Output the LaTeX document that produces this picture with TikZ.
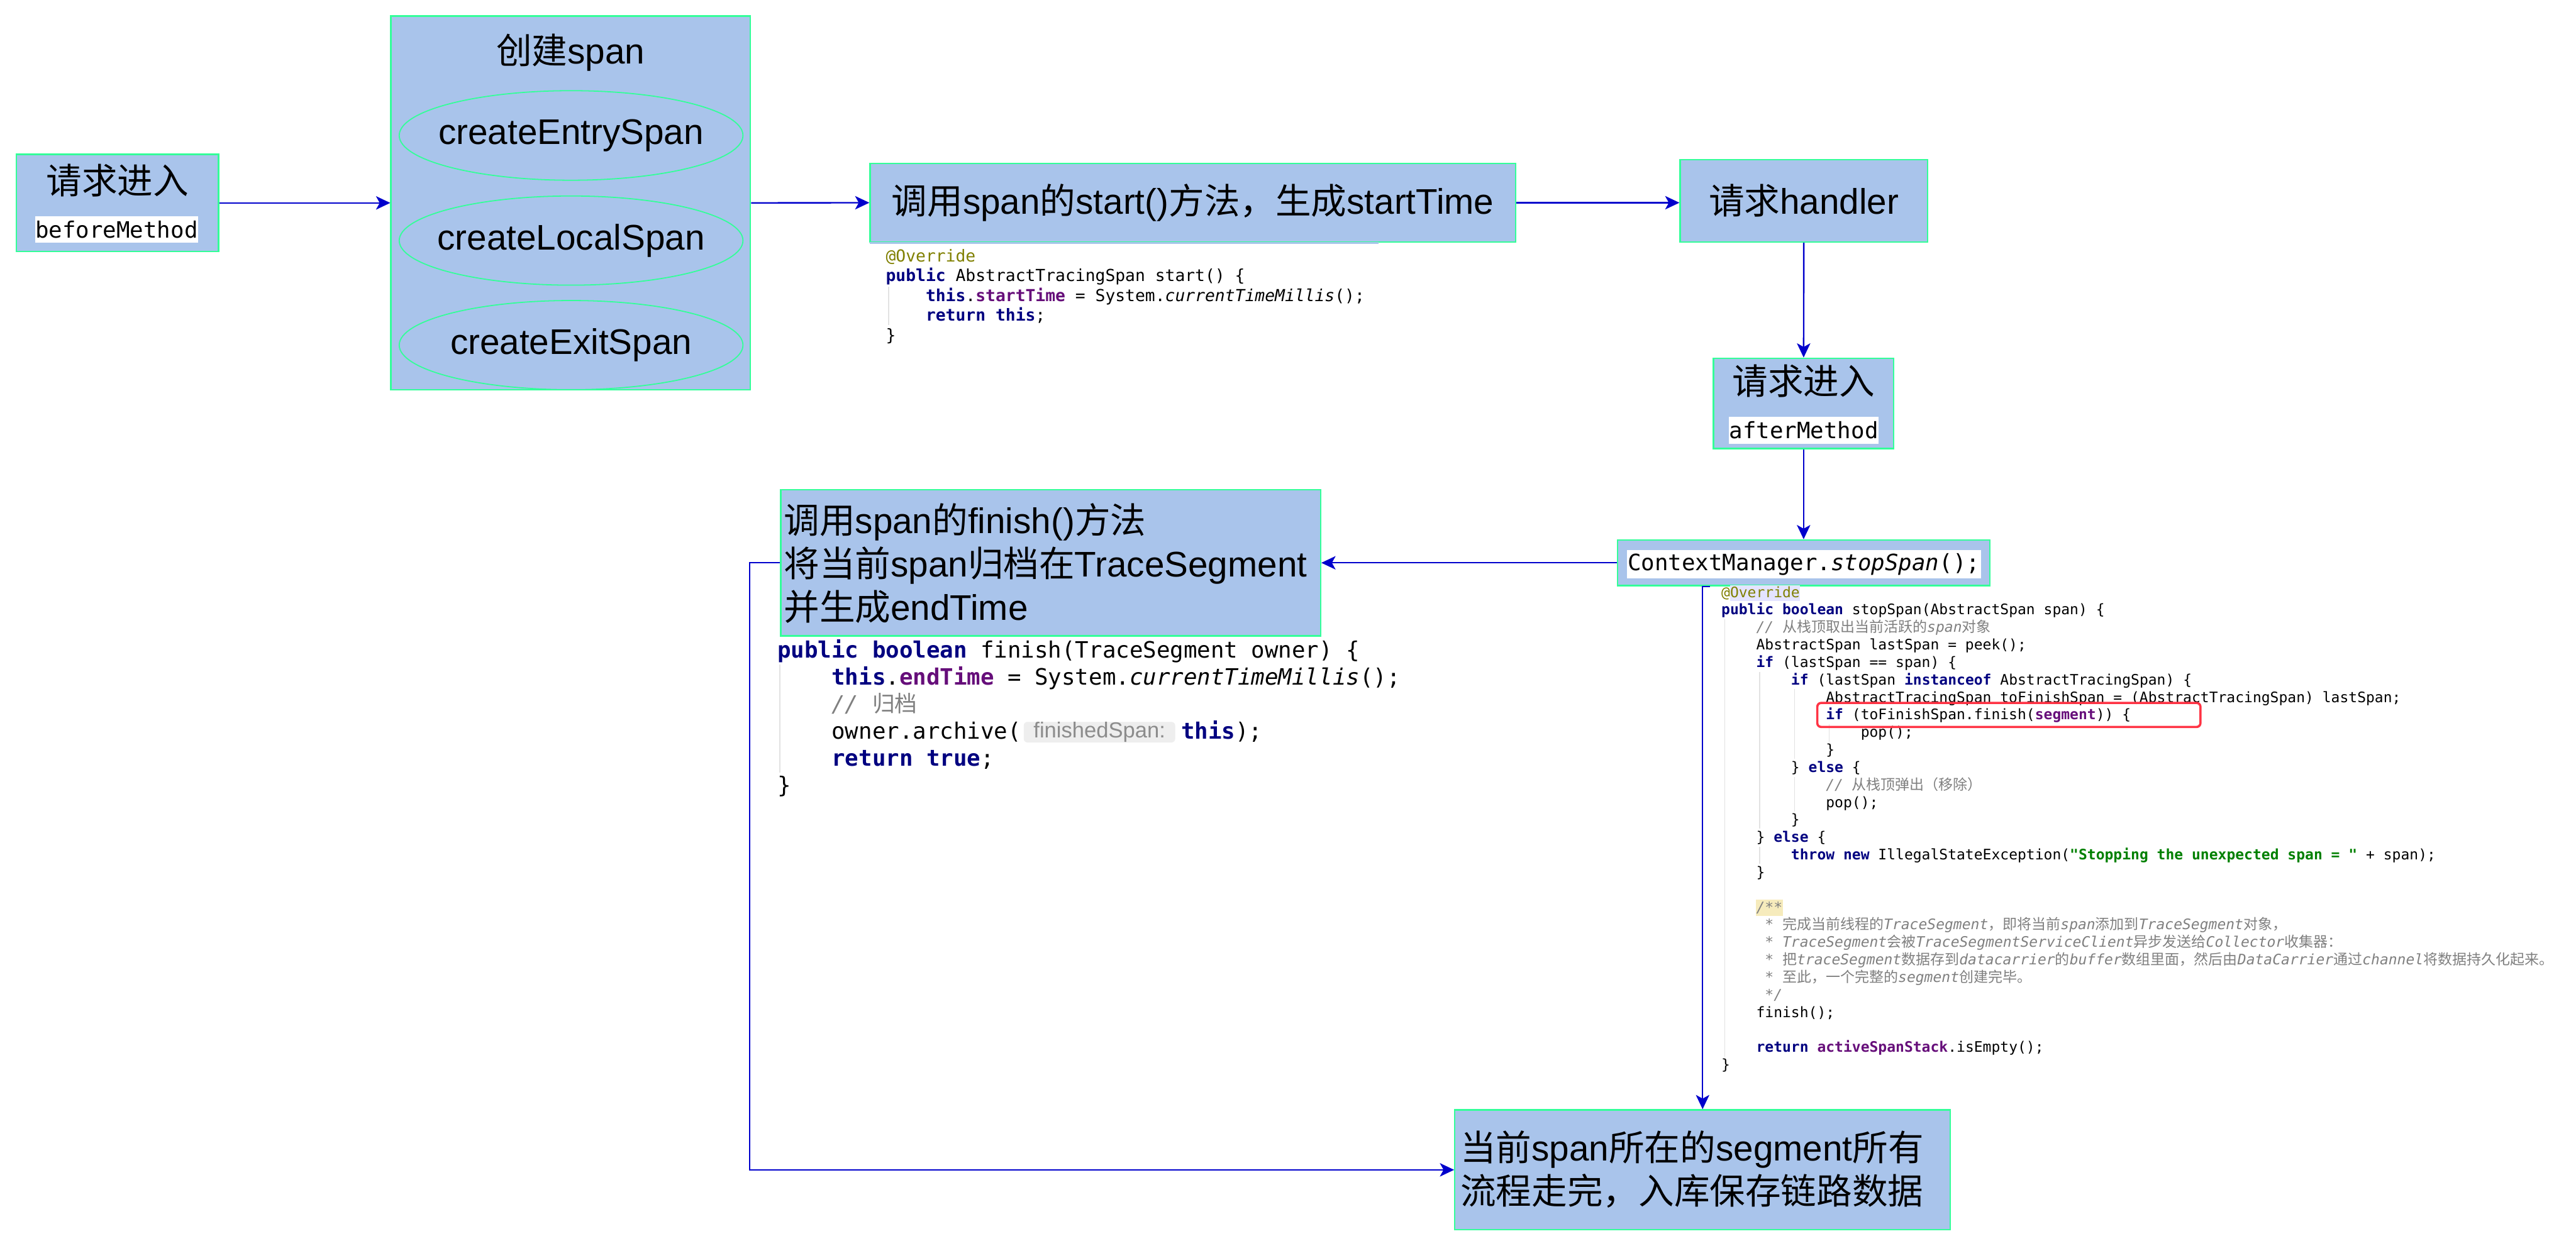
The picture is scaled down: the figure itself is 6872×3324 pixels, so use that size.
\documentclass[tikz,border=0pt]{standalone}
\usepackage{fontspec}
\setmainfont{Liberation Sans}
\newfontfamily\cjk{Noto Sans CJK SC}
\newfontfamily\mono{DejaVu Sans Mono}
\usetikzlibrary{arrows.meta,shapes.geometric}
\definecolor{boxblue}{HTML}{A9C4EB}
\definecolor{boxgreen}{HTML}{33FF99}
\definecolor{arrowblue}{HTML}{0000CC}
\definecolor{kwc}{HTML}{000080}
\definecolor{fdc}{HTML}{660E7A}
\definecolor{anc}{HTML}{808000}
\definecolor{cmc}{HTML}{808080}
\definecolor{stc}{HTML}{008000}
\definecolor{redbox}{HTML}{FF3344}
\definecolor{guidec}{HTML}{E2E2E2}
\definecolor{hintbg}{HTML}{EEEEEE}
\definecolor{hintfg}{HTML}{8C8C8C}
\definecolor{lavender}{HTML}{E4E4FF}
\definecolor{paleyellow}{HTML}{F6EBBC}
\newcommand{\zh}[1]{{\cjk #1}}
\newcommand{\kw}[1]{\textcolor{kwc}{\bfseries #1}}
\newcommand{\fd}[1]{\textcolor{fdc}{\bfseries #1}}
\newcommand{\an}[1]{\textcolor{anc}{#1}}
\newcommand{\codecmt}[1]{\textcolor{cmc}{\itshape #1}}
\newcommand{\codestr}[1]{\textcolor{stc}{\bfseries #1}}
\newcommand{\ind}[1]{\hspace*{\dimexpr 2.408em*#1\relax}}
\tikzset{
  bx/.style={draw=boxgreen, fill=boxblue, line width=4pt, inner sep=0pt, rectangle},
  ell/.style={draw=boxgreen, fill=boxblue, line width=3pt, ellipse, inner sep=0pt},
  conn/.style={draw=arrowblue, line width=4pt,
    -{Stealth[length=38pt,width=36pt,inset=10pt,line width=1pt]}},
  big/.style={inner sep=0pt, font=\fontsize{95}{116}\selectfont},
  monolbl/.style={fill=white, inner sep=0pt, font=\mono\fontsize{60}{72}\selectfont},
  codeS/.style={anchor=base west, inner sep=0pt, font=\mono\fontsize{38.6}{46.7}\selectfont},
  codeM/.style={anchor=base west, inner sep=0pt, font=\mono\fontsize{44.2}{53}\selectfont},
  codeL/.style={anchor=base west, inner sep=0pt, font=\mono\fontsize{60}{72}\selectfont},
  guide/.style={draw=guidec, line width=2.5pt},
}
\begin{document}
\begin{tikzpicture}[x=1pt,y=-1pt]
\useasboundingbox (0,0) rectangle (6872,3324);
\fill[white] (0,0) rectangle (6872,3324);

% ---------- top row ----------
\node[bx, minimum width=539pt, minimum height=259pt] (before) at (313.5,541.5) {};
\node[big] (beforet) at (313.5,482) {\zh{请求进入}};
\node[monolbl, minimum width=430pt, minimum height=70pt] (beforem) at (311,612) {beforeMethod};

\node[bx, minimum width=959pt, minimum height=997pt] (create) at (1522.5,541.5) {};
\node[big] (createt) at (1522,140) {\zh{创建}span};
\node[ell, minimum width=917pt, minimum height=239pt] (e1) at (1523.5,361.5) {};
\node[ell, minimum width=917pt, minimum height=238pt] (e2) at (1523.5,642) {};
\node[ell, minimum width=917pt, minimum height=238pt] (e3) at (1523.5,921) {};
\node[big] (e1t) at (e1.center) {createEntrySpan};
\node[big] (e2t) at (e2.center) {createLocalSpan};
\node[big] (e3t) at (e3.center) {createExitSpan};

\node[bx, minimum width=1722pt, minimum height=210pt, font=\fontsize{95}{116}\selectfont] (start) at (3182,541)
  {\zh{调用}span\zh{的}start()\zh{方法，生成}startTime};
\draw[boxblue, line width=4.5pt] ([xshift=2pt]start.south west) -- ([xshift=1359pt]start.south west);

\node[bx, minimum width=660pt, minimum height=220pt, font=\fontsize{95}{116}\selectfont] (handler) at (4812,536)
  {\zh{请求}handler};

\node[bx, minimum width=481pt, minimum height=241pt] (after) at (4811.5,1076.5) {};
\node[big] (aftert) at (4811.5,1017) {\zh{请求进入}};
\node[monolbl, minimum width=400pt, minimum height=72pt] (afterm) at (4812,1148) {afterMethod};

\node[bx, minimum width=993pt, minimum height=122pt] (cm) at (4811.5,1502) {};
\node[monolbl, minimum width=944pt, minimum height=76pt] (cmt) at (4812,1506)
  {ContextManager.\textit{stopSpan}();};

\node[bx, minimum width=1440pt, minimum height=390pt] (finish) at (2803,1502) {};
\node[big, anchor=west, align=left] (finisht) at (2091,1503)
  {\zh{调用}span\zh{的}finish()\zh{方法}\\\zh{将当前}span\zh{归档在}TraceSegment\\\zh{并生成}endTime};

\node[bx, minimum width=1322pt, minimum height=320pt] (seg) at (4542,3122) {};
\node[big, anchor=west, align=left] (segt) at (3896,3121)
  {\zh{当前}span\zh{所在的}segment\zh{所有}\\\zh{流程走完，入库保存链路数据}};

% ---------- start() code ----------
\draw[guide] (2371,765) -- (2371,868);
\node[codeM] (c0) at (2363,698) {\an{@Override}};
\node[codeM] (c1) at (2363,751) {\kw{public} AbstractTracingSpan start() \{};
\node[codeM] (c2) at (2363,804) {\ind{1}\kw{this}.\fd{startTime} = System.\textit{currentTimeMillis}();};
\node[codeM] (c3) at (2363,857) {\ind{1}\kw{return this};};
\node[codeM] (c4) at (2363,910) {\}};

% ---------- finish() code ----------
\draw[guide] (2080,1774) -- (2080,2062);
\node[codeL] (f0) at (2074,1756) {\kw{public boolean} finish(TraceSegment owner) \{};
\node[codeL] (f1) at (2074,1828) {\ind{1}\kw{this}.\fd{endTime} = System.\textit{currentTimeMillis}();};
\node[codeL] (f2) at (2074,1900) {\ind{1}\codecmt{// \zh{归档}}};
\node[codeL] (f3) at (2074,1972) {\ind{1}owner.archive(};
\node[fill=hintbg, rounded corners=10pt, minimum width=404pt, minimum height=55pt, inner sep=0pt,
      text=hintfg, font=\fontsize{58}{60}\selectfont] (hint) at (2933,1954) {finishedSpan:};
\node[codeL] (f3b) at (3151,1972) {\kw{this});};
\node[codeL] (f4) at (2074,2044) {\ind{1}\kw{return true};};
\node[codeL] (f5) at (2074,2116) {\}};

% ---------- stopSpan code ----------
\fill[lavender] (4615,1562) rectangle (4801,1604);
\fill[paleyellow] (4685,2400) rectangle (4756,2444);
\draw[guide] (4601,1652) -- (4601,2820);
\draw[guide] (4694,1793) -- (4694,2212);
\draw[guide] (4694,2260) -- (4694,2306);
\draw[guide] (4787,1839) -- (4787,2025);
\draw[guide] (4787,2073) -- (4787,2166);
\draw[guide] (4880,1933) -- (4880,1979);
\node[codeS] (s0) at (4592,1594.0) {\an{@Override}};
\node[codeS] (s1) at (4592,1640.7) {\kw{public boolean} stopSpan(AbstractSpan span) \{};
\node[codeS] (s2) at (4592,1687.4) {\ind{1}\codecmt{// \zh{从栈顶取出当前活跃的}span\zh{对象}}};
\node[codeS] (s3) at (4592,1734.1) {\ind{1}AbstractSpan lastSpan = peek();};
\node[codeS] (s4) at (4592,1780.8) {\ind{1}\kw{if} (lastSpan == span) \{};
\node[codeS] (s5) at (4592,1827.5) {\ind{2}\kw{if} (lastSpan \kw{instanceof} AbstractTracingSpan) \{};
\node[codeS] (s6) at (4592,1874.2) {\ind{3}AbstractTracingSpan toFinishSpan = (AbstractTracingSpan) lastSpan;};
\node[codeS] (s7) at (4592,1920.9) {\ind{3}\kw{if} (toFinishSpan.finish(\fd{segment})) \{};
\node[codeS] (s8) at (4592,1967.6) {\ind{4}pop();};
\node[codeS] (s9) at (4592,2014.3) {\ind{3}\}};
\node[codeS] (s10) at (4592,2061.0) {\ind{2}\} \kw{else} \{};
\node[codeS] (s11) at (4592,2107.7) {\ind{3}\codecmt{// \zh{从栈顶弹出（移除）}}};
\node[codeS] (s12) at (4592,2154.4) {\ind{3}pop();};
\node[codeS] (s13) at (4592,2201.1) {\ind{2}\}};
\node[codeS] (s14) at (4592,2247.8) {\ind{1}\} \kw{else} \{};
\node[codeS] (s15) at (4592,2294.5) {\ind{2}\kw{throw new} IllegalStateException(\codestr{"Stopping the unexpected span = "} + span);};
\node[codeS] (s16) at (4592,2341.2) {\ind{1}\}};
\node[codeS] (s18) at (4592,2434.6) {\ind{1}\codecmt{/**}};
\node[codeS] (s19) at (4592,2481.3) {\ind{1}\codecmt{\hspace*{0.602em}* \zh{完成当前线程的}TraceSegment\zh{，即将当前}span\zh{添加到}TraceSegment\zh{对象，}}};
\node[codeS] (s20) at (4592,2528.0) {\ind{1}\codecmt{\hspace*{0.602em}* TraceSegment\zh{会被}TraceSegmentServiceClient\zh{异步发送给}Collector\zh{收集器：}}};
\node[codeS] (s21) at (4592,2574.7) {\ind{1}\codecmt{\hspace*{0.602em}* \zh{把}traceSegment\zh{数据存到}datacarrier\zh{的}buffer\zh{数组里面，然后由}DataCarrier\zh{通过}channel\zh{将数据持久化起来。}}};
\node[codeS] (s22) at (4592,2621.4) {\ind{1}\codecmt{\hspace*{0.602em}* \zh{至此，一个完整的}segment\zh{创建完毕。}}};
\node[codeS] (s23) at (4592,2668.1) {\ind{1}\codecmt{\hspace*{0.602em}*/}};
\node[codeS] (s24) at (4592,2714.8) {\ind{1}finish();};
\node[codeS] (s26) at (4592,2808.2) {\ind{1}\kw{return} \fd{activeSpanStack}.isEmpty();};
\node[codeS] (s27) at (4592,2854.9) {\}};
\draw[redbox, line width=6pt, rounded corners=10pt] (4848,1876) rectangle (5870,1940);

% ---------- connectors ----------
\draw[conn] (before.east) -- (create.west);
\draw[conn] (create.east) -- (start.west);
\draw[conn] (start.east) -- (handler.west |- start.east);
\draw[conn] (handler.south) -- (after.north);
\draw[conn] (after.south) -- (cm.north);
\draw[conn] (cm.west) -- (finish.east);
\draw[conn] (finish.west) -- ++(-81,0) |- (seg.west);
\path (cm.south west) ++(249,0) coordinate (cmx);
\draw[conn] (cmx) -- (cmx -| seg.north) -- (seg.north);
\end{tikzpicture}
\end{document}
